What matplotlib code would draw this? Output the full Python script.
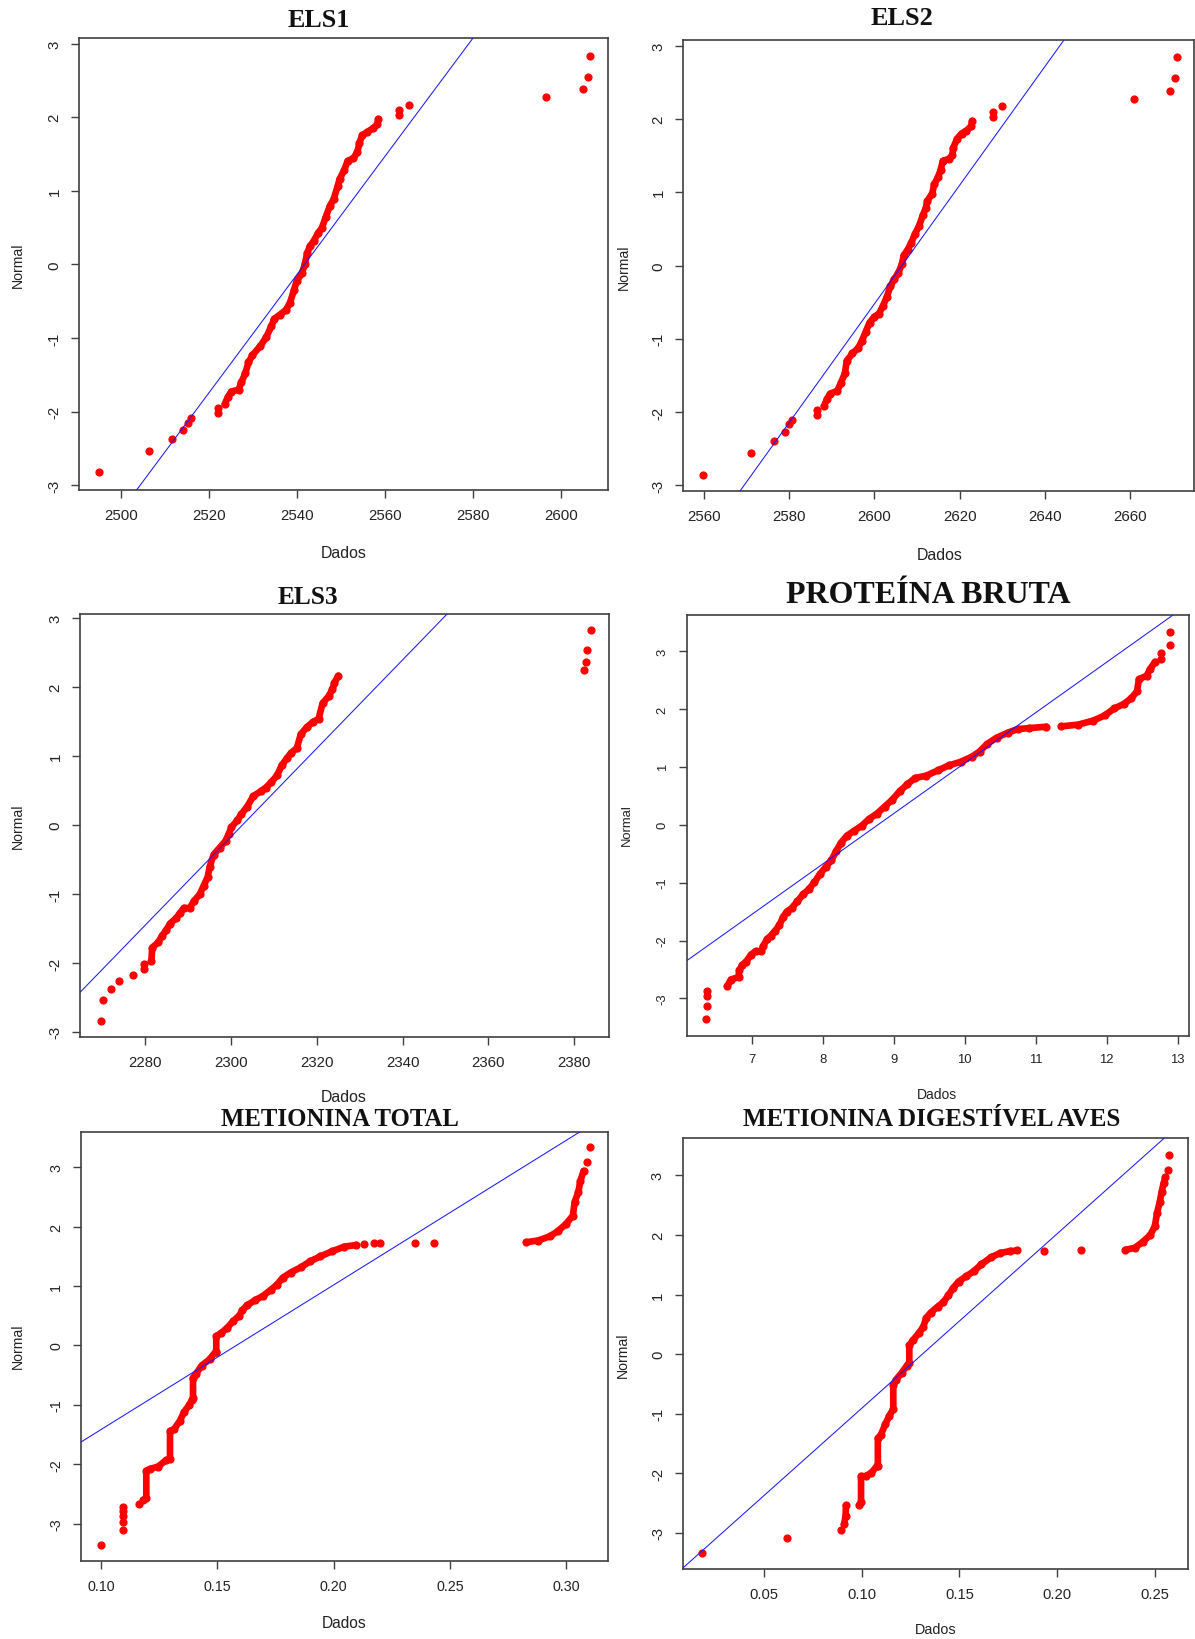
import matplotlib
matplotlib.use("Agg")
import matplotlib.pyplot as plt
from matplotlib.ticker import FixedLocator, FixedFormatter

plt.rcParams["axes.unicode_minus"] = False

# ---------------- data: sorted sample values (x) vs normal quantiles (y) ----------------
# ELS1
els1_dots_x = [2494.95, 2506.22, 2511.63, 2514.07, 2515.24, 2515.87, 2522.0, 2522.0,
               2563.21, 2563.21, 2565.46, 2596.57, 2605.14, 2606.31, 2606.67]
els1_dots_y = [-2.827, -2.531, -2.373, -2.255, -2.161, -2.087, -1.949, -2.023,
               2.023, 2.097, 2.171, 2.270, 2.378, 2.551, 2.837]
els1_runs_x = [[2523.53, 2524.26, 2525.07, 2526.69, 2527.32, 2528.22, 2528.94, 2529.84, 2531.64, 2532.99,
                2534.16, 2534.8, 2536.16, 2537.5, 2538.41, 2539.31, 2539.94, 2541.1, 2541.75, 2542.29,
                2542.92, 2543.82, 2544.72, 2545.63, 2546.53, 2547.43, 2548.33, 2549.23, 2549.68, 2550.77,
                2551.49, 2552.84, 2553.74, 2554.19, 2554.82, 2556.0, 2557.35, 2558.25, 2558.52]]
els1_runs_y = [[-1.899, -1.801, -1.727, -1.702, -1.603, -1.480, -1.332, -1.233, -1.110, -0.987,
                -0.839, -0.74, -0.681, -0.617, -0.518, -0.345, -0.222, -0.123, 0.0, 0.148,
                0.247, 0.321, 0.42, 0.494, 0.642, 0.790, 0.888, 1.061, 1.16, 1.283,
                1.406, 1.44, 1.53, 1.65, 1.752, 1.80, 1.85, 1.90, 1.974]]
els1_line = [(2503.43, -3.069), (2580.16, 3.084)]

# ELS2
els2_dots_x = [2559.73, 2570.98, 2576.34, 2578.93, 2579.82, 2580.71, 2586.61, 2586.61,
               2627.86, 2627.86, 2629.91, 2660.89, 2669.38, 2670.71, 2670.98]
els2_dots_y = [-2.851, -2.554, -2.390, -2.266, -2.167, -2.108, -1.969, -2.033,
               2.023, 2.097, 2.172, 2.271, 2.380, 2.554, 2.841]
els2_runs_x = [[2588.13, 2588.84, 2589.64, 2591.25, 2592.14, 2593.04, 2593.48, 2594.82, 2596.16, 2597.05,
                2597.95, 2598.84, 2599.91, 2601.07, 2601.96, 2602.86, 2603.75, 2604.64, 2605.54, 2606.43,
                2606.88, 2607.77, 2608.66, 2609.55, 2610.45, 2611.34, 2612.05, 2612.41, 2613.57, 2614.02,
                2614.91, 2615.54, 2616.07, 2617.41, 2618.30, 2618.48, 2619.38, 2620.45, 2621.61, 2622.68,
                2622.95]]
els2_runs_y = [[-1.919, -1.820, -1.746, -1.711, -1.597, -1.473, -1.299, -1.200, -1.126, -1.027,
                -0.903, -0.779, -0.704, -0.655, -0.556, -0.432, -0.283, -0.184, -0.109, 0.015,
                0.139, 0.213, 0.312, 0.436, 0.535, 0.684, 0.783, 0.882, 0.982, 1.106,
                1.205, 1.304, 1.428, 1.453, 1.502, 1.602, 1.726, 1.800, 1.840, 1.899,
                1.973]]
els2_line = [(2568.30, -3.085), (2644.55, 3.079)]

# ELS3
els3_dots_x = [2269.56, 2270.20, 2271.87, 2273.72, 2277.13, 2279.72, 2279.72,
               2382.31, 2382.77, 2383.05, 2383.97]
els3_dots_y = [-2.836, -2.541, -2.376, -2.262, -2.177, -2.092, -2.017,
               2.251, 2.366, 2.541, 2.825]
els3_runs_x = [[2281.39, 2281.57, 2282.96, 2283.88, 2284.81, 2285.73, 2287.12, 2288.04, 2288.96, 2290.35,
                2291.28, 2292.66, 2293.59, 2294.51, 2294.97, 2295.90, 2297.28, 2298.67, 2299.41, 2300.06,
                2301.44, 2302.37, 2303.75, 2305.14, 2306.99, 2308.10, 2309.30, 2310.68, 2311.79, 2312.99,
                2313.92, 2315.31, 2316.23, 2317.61, 2319.0, 2320.39, 2321.31, 2322.70, 2323.62, 2324.08,
                2325.00]]
els3_runs_y = [[-1.967, -1.777, -1.703, -1.603, -1.528, -1.428, -1.353, -1.278, -1.203, -1.203,
                -1.103, -1.004, -0.879, -0.754, -0.604, -0.429, -0.330, -0.230, -0.130, -0.030,
                0.070, 0.160, 0.269, 0.419, 0.494, 0.544, 0.619, 0.719, 0.868, 0.968,
                1.043, 1.118, 1.318, 1.418, 1.492, 1.542, 1.767, 1.867, 1.967, 2.067,
                2.166]]
els3_line = [(2264.75, -2.426), (2350.42, 3.065)]

# PROTEÍNA BRUTA
pb_dots_x = [6.348, 6.369, 6.374, 6.374, 12.765, 12.765, 12.894, 12.899]
pb_dots_y = [-3.362, -3.124, -2.958, -2.869, 2.857, 2.970, 3.095, 3.333]
pb_runs_x = [[6.652, 6.706, 6.813, 6.824, 6.866, 6.920, 6.989, 7.053, 7.134, 7.160,
              7.214, 7.267, 7.332, 7.385, 7.444, 7.492, 7.562, 7.642, 7.722, 7.802,
              7.882, 7.963, 8.043, 8.123, 8.187, 8.257, 8.337, 8.444, 8.551, 8.658,
              8.765, 8.872, 8.979, 9.086, 9.193, 9.300, 9.460, 9.620, 9.781, 9.941,
              10.102, 10.209, 10.316, 10.449, 10.610, 10.744, 10.904, 11.145],
             [11.359, 11.599, 11.813, 11.974, 12.107, 12.241, 12.348, 12.428, 12.455, 12.562,
              12.615, 12.680]]
pb_runs_y = [[-2.791, -2.673, -2.631, -2.512, -2.423, -2.363, -2.244, -2.185, -2.185, -2.096,
              -1.977, -1.917, -1.828, -1.739, -1.590, -1.501, -1.442, -1.323, -1.204, -1.115,
              -0.996, -0.847, -0.728, -0.609, -0.461, -0.312, -0.193, -0.104, -0.015, 0.104,
              0.193, 0.312, 0.431, 0.580, 0.699, 0.806, 0.848, 0.937, 1.026, 1.085,
              1.175, 1.264, 1.395, 1.502, 1.591, 1.650, 1.668, 1.692],
             [1.698, 1.728, 1.799, 1.888, 2.007, 2.084, 2.185, 2.304, 2.512, 2.572,
              2.691, 2.810]]
pb_line = [(6.080, -2.351), (12.925, 3.612)]

# METIONINA TOTAL
mt_dots_x = [0.1000, 0.1095, 0.1095, 0.1095, 0.1095, 0.1095, 0.1163,
             0.2130, 0.2173, 0.2198, 0.2348, 0.2433, 0.3090, 0.3104]
mt_dots_y = [-3.359, -3.104, -2.965, -2.872, -2.791, -2.716, -2.675,
             1.707, 1.719, 1.719, 1.719, 1.730, 3.093, 3.342]
mt_runs_x = [[0.1180, 0.1194, 0.1194, 0.1211, 0.1245, 0.1279, 0.1296, 0.1296, 0.1313, 0.1339,
              0.1356, 0.1378, 0.1390, 0.1395, 0.1395, 0.1407, 0.1432, 0.1466, 0.1492, 0.1495,
              0.1495, 0.1517, 0.1543, 0.1569, 0.1594, 0.1606, 0.1628, 0.1662, 0.1696, 0.1730,
              0.1756, 0.1781, 0.1815, 0.1858, 0.1900, 0.1943, 0.1994, 0.2045, 0.2096],
             [0.2828, 0.2879, 0.2930, 0.2964, 0.2998, 0.3029, 0.3037, 0.3053, 0.3061, 0.3075]]
mt_runs_y = [[-2.600, -2.571, -2.107, -2.078, -2.038, -1.933, -1.904, -1.441, -1.412, -1.267,
              -1.122, -1.006, -0.919, -0.890, -0.542, -0.484, -0.339, -0.235, -0.107, -0.107,
              0.154, 0.212, 0.299, 0.415, 0.501, 0.588, 0.675, 0.762, 0.832, 0.936,
              1.023, 1.139, 1.226, 1.313, 1.417, 1.499, 1.585, 1.661, 1.690],
             [1.736, 1.765, 1.835, 1.922, 2.038, 2.183, 2.414, 2.588, 2.762, 2.936]]
mt_line = [(0.0913, -1.626), (0.3063, 3.603)]

# METIONINA DIGESTÍVEL AVES
md_dots_x = [0.01854, 0.06184, 0.08942, 0.1933, 0.2123, 0.2568, 0.2574]
md_dots_y = [-3.341, -3.093, -2.948, 1.727, 1.750, 3.098, 3.347]
md_runs_x = [[0.0910, 0.0918, 0.0920],
             [0.0987, 0.0997, 0.0997, 0.1020, 0.1050, 0.1079, 0.1083, 0.1083, 0.1098, 0.1121,
              0.1141, 0.1162, 0.1162, 0.1176, 0.1205, 0.1230, 0.1244, 0.1244, 0.1263, 0.1292,
              0.1315, 0.1331, 0.1354, 0.1389, 0.1418, 0.1444, 0.1467, 0.1496, 0.1535, 0.1574,
              0.1613, 0.1661, 0.1710, 0.1758, 0.1797],
             [0.2350, 0.2399, 0.2438, 0.2477, 0.2500, 0.2512, 0.2525, 0.2535, 0.2545, 0.2554]]
md_runs_y = [[-2.861, -2.717, -2.543],
             [-2.543, -2.485, -2.051, -2.051, -1.993, -1.878, -1.878, -1.415, -1.357, -1.183,
              -1.039, -0.923, -0.518, -0.431, -0.315, -0.200, -0.142, 0.148, 0.234, 0.350,
              0.454, 0.610, 0.697, 0.795, 0.871, 0.987, 1.102, 1.218, 1.305, 1.391,
              1.507, 1.623, 1.698, 1.727, 1.739],
             [1.750, 1.785, 1.883, 1.999, 2.144, 2.375, 2.549, 2.722, 2.867, 2.965]]
md_line = [(0.00845, -3.596), (0.2550, 3.631)]

# tick values / labels
els1_xticks = [2500, 2520, 2540, 2560, 2580, 2600]
els2_xticks = [2560, 2580, 2600, 2620, 2640, 2660]
els3_xticks = [2280, 2300, 2320, 2340, 2360, 2380]
pb_xticks = [7, 8, 9, 10, 11, 12, 13]
mt_xticks = [0.10, 0.15, 0.20, 0.25, 0.30]
md_xticks = [0.05, 0.10, 0.15, 0.20, 0.25]
normal_yticks = [-3, -2, -1, 0, 1, 2, 3]

titles = ["ELS1", "ELS2", "ELS3", "PROTEÍNA BRUTA", "METIONINA TOTAL", "METIONINA DIGESTÍVEL AVES"]
x_label = "Dados"
y_label = "Normal"

# ---------------- figure ----------------
W, H = 1195, 1640
fig = plt.figure(figsize=(W / 100, H / 100), dpi=100)
fig.patch.set_facecolor("white")

SANS = ["Liberation Sans", "DejaVu Sans"]
SERIF = ["Liberation Serif", "DejaVu Serif"]
RED = "#ff0000"
FRAME = "#404040"


def px_text(x, y, s, **kw):
    fig.text(x / W, 1 - y / H, s, **kw)


def panel(box, xlim, ylim, xticks, xfmt, runs_x, runs_y, dots_x, dots_y, line, fs):
    left, top, right, bottom = box
    ax = fig.add_axes([left / W, 1 - bottom / H, (right - left) / W, (bottom - top) / H])
    for rx, ry in zip(runs_x, runs_y):
        ax.plot(rx, ry, color=RED, lw=4.8, marker="o", ms=4.9, mec=RED, mfc=RED,
                solid_capstyle="round", solid_joinstyle="round", zorder=2)
    ax.plot(dots_x, dots_y, ls="none", marker="o", ms=4.9, mec=RED, mfc=RED, zorder=2)
    ax.axline(line[0], line[1], color="#1a1aff", lw=0.75, zorder=3)
    ax.set_xlim(*xlim)
    ax.set_ylim(*ylim)
    ax.xaxis.set_major_locator(FixedLocator(xticks))
    ax.xaxis.set_major_formatter(FixedFormatter([xfmt.format(v) for v in xticks]))
    ax.yaxis.set_major_locator(FixedLocator(normal_yticks))
    ax.yaxis.set_major_formatter(FixedFormatter([str(v) for v in normal_yticks]))
    for sp in ax.spines.values():
        sp.set_color(FRAME)
        sp.set_linewidth(1.2)
    ax.tick_params(direction="out", length=5.8, width=1.0, color=FRAME,
                   labelsize=fs, labelcolor="#222222", pad=7)
    ax.tick_params(axis="y", labelrotation=90)
    for lab in ax.get_yticklabels():
        lab.set_va("center")
        lab.set_family(SANS)
    for lab in ax.get_xticklabels():
        lab.set_family(SANS)
    return ax


panel((79.3, 39.0, 608.3, 491.0), (2490.44, 2610.83), (-3.065, 3.075), els1_xticks, "{:d}",
      els1_runs_x, els1_runs_y, els1_dots_x, els1_dots_y, els1_line, 10.8)
panel((683.3, 40.7, 1193.7, 492.3), (2555.09, 2674.99), (-3.08, 3.08), els2_xticks, "{:d}",
      els2_runs_x, els2_runs_y, els2_dots_x, els2_dots_y, els2_line, 10.8)
panel((80.3, 614.8, 608.5, 1038.0), (2264.8, 2388.0), (-3.074, 3.064), els3_xticks, "{:d}",
      els3_runs_x, els3_runs_y, els3_dots_x, els3_dots_y, els3_line, 10.8)
panel((686.5, 615.5, 1189.4, 1036.5), (6.08, 13.166), (-3.64, 3.63), pb_xticks, "{:d}",
      pb_runs_x, pb_runs_y, pb_dots_x, pb_dots_y, pb_line, 9.4)
panel((81.1, 1132.5, 608.4, 1562.1), (0.09135, 0.3182), (-3.63, 3.60), mt_xticks, "{:.2f}",
      mt_runs_x, mt_runs_y, mt_dots_x, mt_dots_y, mt_line, 10.3)
panel((682.7, 1138.9, 1188.2, 1570.0), (0.00845, 0.2671), (-3.61, 3.63), md_xticks, "{:.2f}",
      md_runs_x, md_runs_y, md_dots_x, md_dots_y, md_line, 10.6)

# titles (baseline positions in pixels)
title_pos = [(318.3, 27.2, 18.7), (902.0, 24.7, 18.9), (308.4, 604.4, 18.3),
             (928.3, 602.7, 23.0), (340.0, 1126.5, 17.8), (931.3, 1126.5, 18.0)]
for t, (x, y, s) in zip(titles, title_pos):
    px_text(x, y, t, ha="center", va="baseline", family=SERIF, fontweight="bold",
            fontsize=s, color="#111111")

# axis labels
xlab_pos = [(344.0, 558.0, 11.4), (939.4, 560.3, 11.4), (344.0, 1102.2, 11.4),
            (937.0, 1099.5, 10.0), (344.0, 1627.7, 11.2), (935.9, 1634.0, 10.4)]
for x, y, s in xlab_pos:
    px_text(x, y, x_label, ha="center", va="baseline", family=SANS, fontsize=s, color="#222222")

ylab_pos = [(17.8, 264.8, 10.2), (623.5, 267.2, 10.2), (17.8, 826.5, 10.2),
            (627.3, 825.5, 9.4), (17.8, 1346.2, 10.2), (622.8, 1354.8, 10.2)]
for x, y, s in ylab_pos:
    px_text(x, y, y_label, ha="center", va="center", rotation=90, family=SANS,
            fontsize=s, color="#222222")

fig.savefig("out.png", dpi=100, facecolor="white")
